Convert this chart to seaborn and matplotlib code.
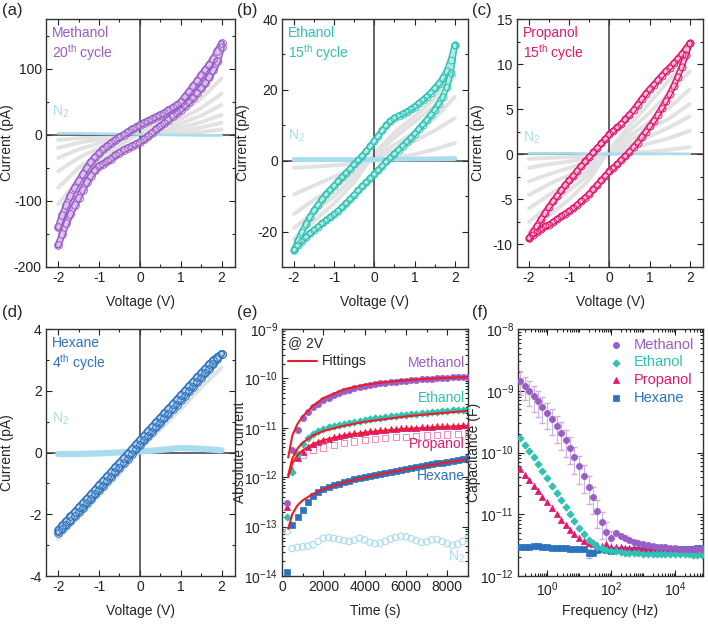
import numpy as np
import matplotlib
matplotlib.use("Agg")
import matplotlib.pyplot as plt
import seaborn as sns
from matplotlib.ticker import MultipleLocator, LogLocator, FixedLocator, NullFormatter

sns.set_style("ticks")
plt.rcParams["font.family"] = ["Liberation Sans", "DejaVu Sans"]
plt.rcParams["mathtext.fontset"] = "custom"
plt.rcParams["mathtext.rm"] = "Liberation Sans"
plt.rcParams["mathtext.default"] = "regular"
plt.rcParams["axes.unicode_minus"] = False

# ---- colours
C_MET = "#9a5cc6"
C_ETH = "#2fc2b3"
C_PRO = "#e0186f"
C_HEX = "#2d72bd"
C_N2 = "#a9dcf0"
C_GRAY = "#e2e2e2"
C_FIT = "#ee1d24"

# ---- CV sweeps (a-d)
V = [-2.0, -1.9, -1.8, -1.7, -1.6, -1.5, -1.4, -1.3, -1.2, -1.1, -1.0, -0.9, -0.8, -0.7,
     -0.6, -0.5, -0.4, -0.3, -0.2, -0.1, 0.0, 0.1, 0.2, 0.3, 0.4, 0.5, 0.6, 0.7, 0.8, 0.9,
     1.0, 1.1, 1.2, 1.3, 1.4, 1.5, 1.6, 1.7, 1.8, 1.9, 2.0]
V9 = [-2.0, -1.5, -1.0, -0.5, 0.0, 0.5, 1.0, 1.5, 2.0]

met_up = [-140, -122, -106, -92, -80, -70, -60, -50, -41, -34, -28, -22, -17, -12, -8, -4, 0,
          4, 8, 11, 15, 18, 21, 24, 27, 30, 33, 37, 41, 45, 49, 57, 65, 73, 81, 90, 98, 106,
          115, 126, 138]
met_lo = [-167, -150, -134, -120, -107, -95, -83, -72, -62, -54, -47, -44, -40, -36, -31, -27,
          -23, -20, -17, -14, -11, -7, -2, 3, 8, 13, 18, 23, 28, 33, 38, 44, 50, 56, 63, 70, 78,
          87, 98, 111, 132]
met_gray = [[-8, -5, -3, -1, 0, 1, 2, 4, 8],
            [-20, -12, -7, -3, 0, 3, 6, 11, 18],
            [-35, -22, -13, -5, 0, 5, 11, 19, 30],
            [-55, -35, -20, -8, 0, 8, 17, 29, 45],
            [-80, -50, -28, -10, 2, 12, 24, 40, 62],
            [-105, -68, -38, -14, 3, 16, 32, 55, 85],
            [-130, -85, -46, -18, 4, 20, 40, 70, 110]]
met_n2 = [2, 2, 1.5, 1, 0.5, 0, -0.5, -1, -1]

eth_up = [-25.2, -22.5, -20.0, -17.8, -15.8, -14.0, -12.4, -10.9, -9.5, -8.2, -7.0, -5.8, -4.6,
          -3.4, -2.2, -1.0, 0.2, 1.4, 2.7, 4.1, 5.6, 7.1, 8.6, 10.0, 11.2, 12.1, 12.7, 13.2,
          13.8, 14.5, 15.3, 16.2, 17.1, 18.1, 19.2, 20.4, 21.7, 23.3, 25.3, 28.3, 32.6]
eth_lo = [-25.2, -23.8, -22.6, -21.5, -20.5, -19.5, -18.6, -17.7, -16.8, -16.0, -15.1, -14.1,
          -13.1, -12.0, -10.8, -9.6, -8.4, -7.2, -6.1, -5.0, -3.8, -2.6, -1.4, -0.2, 0.9, 2.0,
          3.1, 4.2, 5.3, 6.4, 7.6, 8.9, 10.2, 11.5, 12.9, 14.4, 16.1, 18.1, 20.7, 24.8, 32.6]
eth_gray = [[-2.0, -1.7, -1.3, -0.8, 0.0, 0.8, 1.8, 3.2, 5.0],
            [-9.5, -7.0, -4.5, -2.0, 0.5, 3.0, 5.5, 8.5, 12.0],
            [-15.0, -11.0, -7.5, -3.5, 1.0, 4.5, 8.0, 12.0, 18.0],
            [-19.0, -14.5, -10.0, -4.5, 1.5, 6.5, 11.0, 15.5, 24.0],
            [-22.0, -17.0, -12.0, -6.0, 2.0, 8.0, 12.5, 17.5, 28.0]]
eth_n2 = [0.3, 0.3, 0.3, 0.3, 0.3, 0.4, 0.5, 0.5, 0.6]

pro_up = [-9.3, -8.6, -7.9, -7.2, -6.5, -5.8, -5.2, -4.6, -4.0, -3.4, -2.9, -2.4, -1.8, -1.3,
          -0.8, -0.3, 0.2, 0.7, 1.2, 1.7, 2.2, 2.6, 3.0, 3.4, 3.9, 4.4, 4.9, 5.5, 6.1, 6.7, 7.2,
          7.7, 8.2, 8.7, 9.2, 9.6, 10.1, 10.6, 11.1, 11.7, 12.3]
pro_lo = [-9.3, -8.9, -8.6, -8.3, -8.0, -7.8, -7.5, -7.2, -6.9, -6.6, -6.3, -6.0, -5.6, -5.2,
          -4.8, -4.4, -3.9, -3.4, -2.9, -2.4, -1.9, -1.5, -1.1, -0.6, -0.2, 0.3, 0.8, 1.3, 1.9,
          2.5, 3.1, 3.7, 4.4, 5.1, 5.9, 6.7, 7.6, 8.6, 9.7, 11.0, 12.3]
pro_gray = [[-0.5, -0.4, -0.3, -0.15, 0.0, 0.15, 0.3, 0.5, 0.8],
            [-1.5, -1.1, -0.8, -0.4, 0.1, 0.6, 1.2, 1.8, 2.6],
            [-3.0, -2.2, -1.5, -0.8, 0.2, 1.0, 2.0, 3.0, 4.2],
            [-4.5, -3.3, -2.3, -1.2, 0.3, 1.5, 2.8, 4.0, 5.6],
            [-6.0, -4.5, -3.2, -1.7, 0.4, 2.0, 3.6, 5.2, 7.2],
            [-7.5, -5.7, -4.0, -2.2, 0.5, 2.6, 4.6, 6.8, 9.2],
            [-8.6, -6.8, -5.0, -2.8, 0.5, 3.2, 5.7, 8.3, 11.0]]
pro_n2 = [0.1, 0.1, 0.1, 0.05, 0.05, 0.05, 0.05, 0.05, 0.05]

hex_up = [-2.50, -2.36, -2.21, -2.07, -1.93, -1.78, -1.64, -1.49, -1.35, -1.20, -1.05, -0.91,
          -0.76, -0.62, -0.47, -0.33, -0.18, -0.04, 0.11, 0.26, 0.41, 0.55, 0.70, 0.84, 0.99,
          1.13, 1.28, 1.42, 1.57, 1.71, 1.86, 2.00, 2.15, 2.29, 2.44, 2.58, 2.72, 2.86, 2.99,
          3.10, 3.20]
hex_lo = [-2.60, -2.49, -2.35, -2.22, -2.07, -1.93, -1.80, -1.64, -1.51, -1.36, -1.21, -1.07,
          -0.92, -0.78, -0.63, -0.49, -0.34, -0.20, -0.05, 0.10, 0.24, 0.39, 0.53, 0.68, 0.82,
          0.97, 1.11, 1.26, 1.40, 1.55, 1.69, 1.84, 1.98, 2.13, 2.27, 2.42, 2.56, 2.71, 2.86,
          3.02, 3.20]
hex_gray = [[-2.8, -2.1, -1.4, -0.7, 0.1, 0.75, 1.4, 2.1, 2.75]]
hex_n2 = [-0.05, -0.05, -0.03, 0.0, 0.03, 0.08, 0.15, 0.12, 0.07]

# ---- current vs time at 2 V (e)
T = [250, 500, 750, 1000, 1250, 1500, 1750, 2000, 2250, 2500, 2750, 3000, 3250, 3500, 3750,
     4000, 4250, 4500, 4750, 5000, 5250, 5500, 5750, 6000, 6250, 6500, 6750, 7000, 7250, 7500,
     7750, 8000, 8250, 8500, 8750, 9000]
i_met = [3.0e-13, 3.5e-12, 9.0e-12, 1.6e-11, 2.1e-11, 2.6e-11, 3.1e-11, 3.6e-11, 4.1e-11,
         4.6e-11, 5.0e-11, 5.5e-11, 5.9e-11, 6.3e-11, 6.6e-11, 7.0e-11, 7.3e-11, 7.6e-11,
         7.9e-11, 8.2e-11, 8.4e-11, 8.6e-11, 8.8e-11, 9.0e-11, 9.2e-11, 9.4e-11, 9.6e-11,
         9.8e-11, 9.9e-11, 1.01e-10, 1.02e-10, 1.04e-10, 1.05e-10, 1.06e-10, 1.07e-10, 1.08e-10]
i_eth = [1.6e-13, 1.3e-12, 3.0e-12, 4.8e-12, 6.3e-12, 7.5e-12, 8.5e-12, 9.4e-12, 1.02e-11,
         1.09e-11, 1.16e-11, 1.22e-11, 1.28e-11, 1.34e-11, 1.40e-11, 1.45e-11, 1.50e-11,
         1.55e-11, 1.60e-11, 1.65e-11, 1.70e-11, 1.75e-11, 1.80e-11, 1.85e-11, 1.89e-11,
         1.94e-11, 1.98e-11, 2.03e-11, 2.07e-11, 2.12e-11, 2.16e-11, 2.20e-11, 2.25e-11,
         2.29e-11, 2.33e-11, 2.37e-11]
i_pro = [2.5e-13, 1.4e-12, 2.4e-12, 3.3e-12, 4.0e-12, 4.6e-12, 5.1e-12, 5.6e-12, 6.0e-12,
         6.4e-12, 6.8e-12, 7.1e-12, 7.4e-12, 7.7e-12, 8.0e-12, 8.3e-12, 8.5e-12, 8.7e-12,
         8.9e-12, 9.1e-12, 9.3e-12, 9.5e-12, 9.7e-12, 9.8e-12, 1.0e-11, 1.01e-11, 1.03e-11,
         1.04e-11, 1.06e-11, 1.07e-11, 1.08e-11, 1.09e-11, 1.10e-11, 1.11e-11, 1.12e-11, 1.13e-11]
i_hex = [1.2e-14, 1.1e-13, 1.6e-13, 2.2e-13, 3.2e-13, 4.2e-13, 5.0e-13, 5.7e-13, 6.3e-13,
         6.9e-13, 7.4e-13, 8.0e-13, 8.5e-13, 9.0e-13, 9.6e-13, 1.01e-12, 1.07e-12, 1.12e-12,
         1.18e-12, 1.24e-12, 1.30e-12, 1.36e-12, 1.42e-12, 1.48e-12, 1.55e-12, 1.61e-12,
         1.68e-12, 1.75e-12, 1.82e-12, 1.90e-12, 1.98e-12, 2.06e-12, 2.15e-12, 2.25e-12,
         2.35e-12, 2.45e-12]
i_n2 = [8e-14, 3.6e-14, 3.8e-14, 3.9e-14, 4.0e-14, 4.3e-14, 5.0e-14, 5.8e-14, 6.0e-14, 5.8e-14,
        5.5e-14, 5.2e-14, 5.0e-14, 5.3e-14, 5.8e-14, 5.4e-14, 4.8e-14, 4.5e-14, 4.6e-14,
        5.0e-14, 5.6e-14, 6.0e-14, 6.4e-14, 6.2e-14, 5.7e-14, 5.2e-14, 4.8e-14, 4.9e-14,
        5.4e-14, 5.5e-14, 5.0e-14, 4.5e-14, 4.2e-14, 4.4e-14, 5.0e-14, 5.8e-14]
T_pale = [1000, 1500, 2000, 2500, 3000, 3500, 4000, 4500, 5000, 5500, 6000, 6500, 7000, 7500,
          8000, 8500, 9000]
i_pro_pale = [2.8e-12, 3.5e-12, 4.0e-12, 4.5e-12, 4.9e-12, 5.3e-12, 5.6e-12, 5.9e-12, 6.2e-12,
              6.4e-12, 6.6e-12, 6.8e-12, 7.0e-12, 7.1e-12, 7.3e-12, 7.4e-12, 7.5e-12]
T_fit = [300, 500, 750, 1000, 1500, 2000, 3000, 4000, 5000, 6000, 7000, 8000, 9000]
fit_met = [2.5e-12, 7e-12, 1.2e-11, 1.7e-11, 2.8e-11, 4e-11, 6e-11, 7.4e-11, 8.4e-11, 9.2e-11,
           9.8e-11, 1.03e-10, 1.07e-10]
fit_eth = [1.1e-12, 2.4e-12, 3.8e-12, 5.0e-12, 7.0e-12, 8.6e-12, 1.1e-11, 1.32e-11, 1.5e-11,
           1.7e-11, 1.87e-11, 2.03e-11, 2.2e-11]
fit_pro = [1.0e-12, 1.9e-12, 2.8e-12, 3.5e-12, 4.7e-12, 5.6e-12, 7.0e-12, 8.0e-12, 8.8e-12,
           9.5e-12, 1.0e-11, 1.05e-11, 1.1e-11]
fit_hex = [9e-14, 1.8e-13, 2.7e-13, 3.4e-13, 4.6e-13, 5.7e-13, 7.8e-13, 9.8e-13, 1.2e-12,
           1.45e-12, 1.7e-12, 2.0e-12, 2.3e-12]
ticks_e = [1e-14, 1e-13, 1e-12, 1e-11, 1e-10, 1e-9]

# ---- capacitance vs frequency (f)
F = [0.14, 0.2, 0.27, 0.37, 0.5, 0.7, 1, 1.4, 2, 2.7, 3.7, 5, 7, 10, 14, 20, 27, 37, 50, 70,
     100, 140, 200, 270, 370, 500, 700, 1000, 1400, 2000, 2700, 3700, 5000, 7000, 1e4, 1.4e4,
     2e4, 2.7e4, 3.7e4, 5e4, 7e4]
c_met = [1.45e-9, 1.2e-9, 1.0e-9, 8.2e-10, 6.8e-10, 5.5e-10, 4.4e-10, 3.5e-10, 2.7e-10,
         2.1e-10, 1.6e-10, 1.2e-10, 8.5e-11, 6.0e-11, 4.2e-11, 2.8e-11, 1.9e-11, 1.15e-11,
         7.5e-12, 5.2e-12, 4.2e-12, 5.0e-12, 4.5e-12, 4.1e-12, 3.8e-12, 3.6e-12, 3.45e-12,
         3.3e-12, 3.2e-12, 3.1e-12, 3.0e-12, 2.95e-12, 2.9e-12, 2.85e-12, 2.8e-12, 2.75e-12,
         2.72e-12, 2.7e-12, 2.7e-12, 2.7e-12, 2.7e-12]
c_met_err = [6e-10, 5e-10, 4.3e-10, 3.6e-10, 3e-10, 2.5e-10, 2e-10, 1.6e-10, 1.25e-10, 1e-10,
             7.5e-11, 5.6e-11, 4e-11, 2.9e-11, 2e-11, 1.35e-11, 9e-12, 5.5e-12, 3.5e-12,
             2.2e-12, 1.2e-12]
c_eth = [1.7e-10, 1.3e-10, 1.05e-10, 8.3e-11, 6.5e-11, 5.0e-11, 3.8e-11, 2.9e-11, 2.2e-11,
         1.7e-11, 1.3e-11, 1.0e-11, 7.8e-12, 6.0e-12, 4.8e-12, 3.9e-12, 3.4e-12, 3.0e-12,
         2.8e-12, 2.65e-12, 2.55e-12, 2.5e-12, 2.45e-12, 2.4e-12, 2.38e-12, 2.35e-12, 2.33e-12,
         2.3e-12, 2.3e-12, 2.28e-12, 2.27e-12, 2.26e-12, 2.25e-12, 2.25e-12, 2.24e-12, 2.24e-12,
         2.23e-12, 2.23e-12, 2.22e-12, 2.22e-12, 2.22e-12]
c_pro = [5.5e-11, 4.4e-11, 3.6e-11, 2.9e-11, 2.4e-11, 1.9e-11, 1.55e-11, 1.25e-11, 1.0e-11,
         8.2e-12, 6.7e-12, 5.6e-12, 4.7e-12, 4.1e-12, 3.7e-12, 3.4e-12, 3.25e-12, 3.15e-12,
         3.1e-12, 3.3e-12, 3.0e-12, 2.95e-12, 2.9e-12, 2.88e-12, 2.85e-12, 2.82e-12, 2.8e-12,
         2.78e-12, 2.75e-12, 2.72e-12, 2.7e-12, 2.68e-12, 2.65e-12, 2.62e-12, 2.6e-12,
         2.58e-12, 2.55e-12, 2.52e-12, 2.5e-12, 2.48e-12, 2.45e-12]
c_hex = [3.0e-12, 3.0e-12, 2.95e-12, 3.05e-12, 3.05e-12, 2.95e-12, 2.9e-12, 2.85e-12, 2.85e-12,
         2.8e-12, 2.82e-12, 2.78e-12, 2.75e-12, 2.7e-12, 2.72e-12, 2.35e-12, 2.4e-12, 2.65e-12,
         2.7e-12, 2.65e-12, 2.5e-12, 2.6e-12, 2.62e-12, 2.6e-12, 2.6e-12, 2.62e-12, 2.6e-12,
         2.6e-12, 2.62e-12, 2.6e-12, 2.62e-12, 2.62e-12, 2.65e-12, 2.65e-12, 2.68e-12, 2.7e-12,
         2.72e-12, 2.75e-12, 2.78e-12, 2.82e-12, 2.85e-12]
ticks_f = [1e-12, 1e-11, 1e-10, 1e-9, 1e-8]

FS = 10

fig = plt.figure(figsize=(7.08, 6.24), dpi=100)
W, H = 708, 624


def add_ax(l, r, t, b):
    return fig.add_axes([l / W, 1 - b / H, (r - l) / W, (b - t) / H])


def style(ax, xl, yl, ylab_x=-0.17):
    ax.tick_params(which="both", direction="in", top=True, right=True, labelsize=FS,
                   width=0.8, colors="#222222", pad=3)
    ax.tick_params(which="major", length=4)
    ax.tick_params(which="minor", length=2.3)
    for s in ax.spines.values():
        s.set_linewidth(1.0)
        s.set_color("#333333")
    ax.set_xlabel(xl, fontsize=FS)
    ax.set_ylabel(yl, fontsize=FS)
    ax.xaxis.set_label_coords(0.5, -0.112)
    ax.yaxis.set_label_coords(ylab_x, 0.5)


def cv_panel(ax, up, lo, grays, n2, color, tint, ylim, ymaj, ymin, name, cycle, n2_y,
             n2_lw, ms):
    for g in grays:
        sns.lineplot(x=V9, y=g, ax=ax, color=C_GRAY, lw=2.8, sort=False, estimator=None,
                     zorder=1)
    ax.axhline(0, color="#3a3a3a", lw=1.1, zorder=1.5)
    ax.axvline(0, color="#3a3a3a", lw=1.1, zorder=1.5)
    sns.lineplot(x=V9, y=n2, ax=ax, color=C_N2, lw=n2_lw, sort=False, estimator=None, zorder=2)
    for br in (lo, up):
        sns.lineplot(x=V, y=br, ax=ax, sort=False, estimator=None, color=color, lw=ms - 0.5,
                     zorder=3)
        sns.lineplot(x=V, y=br, ax=ax, sort=False, estimator=None, color=tint, lw=ms - 2.6,
                     zorder=3.1)
        sns.lineplot(x=V, y=br, ax=ax, sort=False, estimator=None, color=color, lw=0,
                     marker="o", markersize=ms, markerfacecolor="none", markeredgecolor=color,
                     markeredgewidth=0.7, zorder=3.2)
    ax.set_xlim(-2.3, 2.33)
    ax.set_ylim(*ylim)
    ax.xaxis.set_major_locator(MultipleLocator(1))
    ax.xaxis.set_minor_locator(MultipleLocator(0.5))
    ax.yaxis.set_major_locator(MultipleLocator(ymaj))
    ax.yaxis.set_minor_locator(MultipleLocator(ymin))
    ax.text(0.03, 0.944, name, transform=ax.transAxes, color=color, fontsize=FS, va="center")
    ax.text(0.03, 0.866, cycle, transform=ax.transAxes, color=color, fontsize=FS, va="center")
    ax.text(0.03, n2_y, "N$_2$", transform=ax.transAxes, color=C_N2, fontsize=FS, va="center")
    style(ax, "Voltage (V)", "Current (pA)")


ax_a = add_ax(46, 235, 19, 267)
cv_panel(ax_a, met_up, met_lo, met_gray, met_n2, C_MET, "#d9c3ec", (-200, 175), 100, 50,
         "Methanol", "20$^{th}$ cycle", 0.625, 2.0, 5.5)
ax_b = add_ax(282, 468, 19, 267)
cv_panel(ax_b, eth_up, eth_lo, eth_gray, eth_n2, C_ETH, "#b5ebe5", (-30, 40), 20, 10,
         "Ethanol", "15$^{th}$ cycle", 0.53, 3.5, 5)
ax_c = add_ax(517, 703, 19, 267)
cv_panel(ax_c, pro_up, pro_lo, pro_gray, pro_n2, C_PRO, "#f7bfd6", (-12.5, 15), 5, 2.5,
         "Propanol", "15$^{th}$ cycle", 0.52, 2.0, 5)
ax_d = add_ax(46, 235, 329, 576)
cv_panel(ax_d, hex_up, hex_lo, hex_gray, hex_n2, C_HEX, "#bcd5ee", (-4, 4), 2, 1,
         "Hexane", "4$^{th}$ cycle", 0.635, 4.5, 5.5)

# ---- (e)
ax_e = add_ax(282, 468, 329, 576)
sns.scatterplot(x=T, y=i_n2, ax=ax_e, marker="o", s=22, facecolor="none", edgecolor=C_N2,
                linewidth=0.8, zorder=2)
sns.scatterplot(x=T_pale, y=i_pro_pale, ax=ax_e, marker="s", s=20, facecolor="none",
                edgecolor="#f08cb8", linewidth=0.7, zorder=2)
for vals, c, m in ((i_hex, C_HEX, "s"), (i_pro, C_PRO, "^"), (i_eth, C_ETH, "D"),
                   (i_met, C_MET, "o")):
    sns.scatterplot(x=T, y=vals, ax=ax_e, marker=m, s=20 if m != "D" else 14, color=c,
                    edgecolor=c, linewidth=0.5, zorder=3)
for vals in (fit_met, fit_eth, fit_pro, fit_hex):
    sns.lineplot(x=T_fit, y=vals, ax=ax_e, color=C_FIT, lw=1.5, sort=False, estimator=None,
                 zorder=4)
ax_e.set_yscale("log")
ax_e.set_xlim(0, 9000)
ax_e.set_ylim(1e-14, 1e-9)
ax_e.xaxis.set_major_locator(MultipleLocator(2000))
ax_e.xaxis.set_minor_locator(MultipleLocator(1000))
ax_e.yaxis.set_major_locator(FixedLocator(ticks_e))
ax_e.yaxis.set_minor_locator(LogLocator(base=10, subs=np.arange(2, 10), numticks=50))
ax_e.yaxis.set_minor_formatter(NullFormatter())
ax_e.text(0.03, 0.943, "@ 2V", transform=ax_e.transAxes, fontsize=FS, va="center")
ax_e.plot([0.03, 0.19], [0.87, 0.87], transform=ax_e.transAxes, color=C_FIT, lw=1.5)
ax_e.text(0.215, 0.87, "Fittings", transform=ax_e.transAxes, fontsize=FS, va="center")
for lab, c, y in (("Methanol", C_MET, 0.862), ("Ethanol", C_ETH, 0.72),
                  ("Propanol", C_PRO, 0.534), ("Hexane", C_HEX, 0.405), ("N$_2$", C_N2, 0.077)):
    ax_e.text(0.984, y, lab, transform=ax_e.transAxes, color=c, fontsize=FS, va="center",
              ha="right")
style(ax_e, "Time (s)", "Absolute current", ylab_x=-0.19)

# ---- (f)
ax_f = add_ax(518, 703, 329, 576)
ax_f.errorbar(F[:len(c_met_err)], c_met[:len(c_met_err)], yerr=c_met_err, fmt="none",
              ecolor="#cdb0e3", elinewidth=0.8, capsize=2, zorder=1)
ax_f.errorbar([F[15]], [c_hex[15]], yerr=[4e-13], fmt="none", ecolor="#8fb5df",
              elinewidth=0.8, capsize=2, zorder=1)
series_f = (("Methanol", c_met, C_MET, "o", 20), ("Ethanol", c_eth, C_ETH, "D", 14),
            ("Propanol", c_pro, C_PRO, "^", 20), ("Hexane", c_hex, C_HEX, "s", 16))
for lab, vals, c, m, s in series_f[::-1]:
    sns.scatterplot(x=F, y=vals, ax=ax_f, marker=m, s=s, color=c, edgecolor=c, linewidth=0.5,
                    label=lab, zorder=3)
ax_f.set_xscale("log")
ax_f.set_yscale("log")
ax_f.set_xlim(0.12, 7.5e4)
ax_f.set_ylim(1e-12, 1e-8)
ax_f.xaxis.set_major_locator(FixedLocator([1, 1e2, 1e4]))
ax_f.xaxis.set_minor_locator(LogLocator(base=10, subs=np.arange(1, 10), numticks=60))
ax_f.xaxis.set_minor_formatter(NullFormatter())
ax_f.yaxis.set_major_locator(FixedLocator(ticks_f))
ax_f.yaxis.set_minor_locator(LogLocator(base=10, subs=np.arange(2, 10), numticks=50))
ax_f.yaxis.set_minor_formatter(NullFormatter())
h, l = ax_f.get_legend_handles_labels()
leg = ax_f.legend(h[::-1], l[::-1], loc="upper right", frameon=False, fontsize=10.5,
                  handletextpad=0.2, labelspacing=0.25, borderaxespad=0.2, markerscale=1.0)
for txt, (_, _, c, _, _) in zip(leg.get_texts(), series_f):
    txt.set_color(c)
style(ax_f, "Frequency (Hz)", "Capacitance (F)", ylab_x=-0.2)

# ---- panel letters
for lab, x, y in (("(a)", 2, 3), ("(b)", 237, 3), ("(c)", 472, 3), ("(d)", 2, 305),
                  ("(e)", 237, 305), ("(f)", 472, 305)):
    fig.text(x / W, 1 - y / H, lab, fontsize=12, va="top", ha="left")

fig.savefig("out.png", dpi=100)
